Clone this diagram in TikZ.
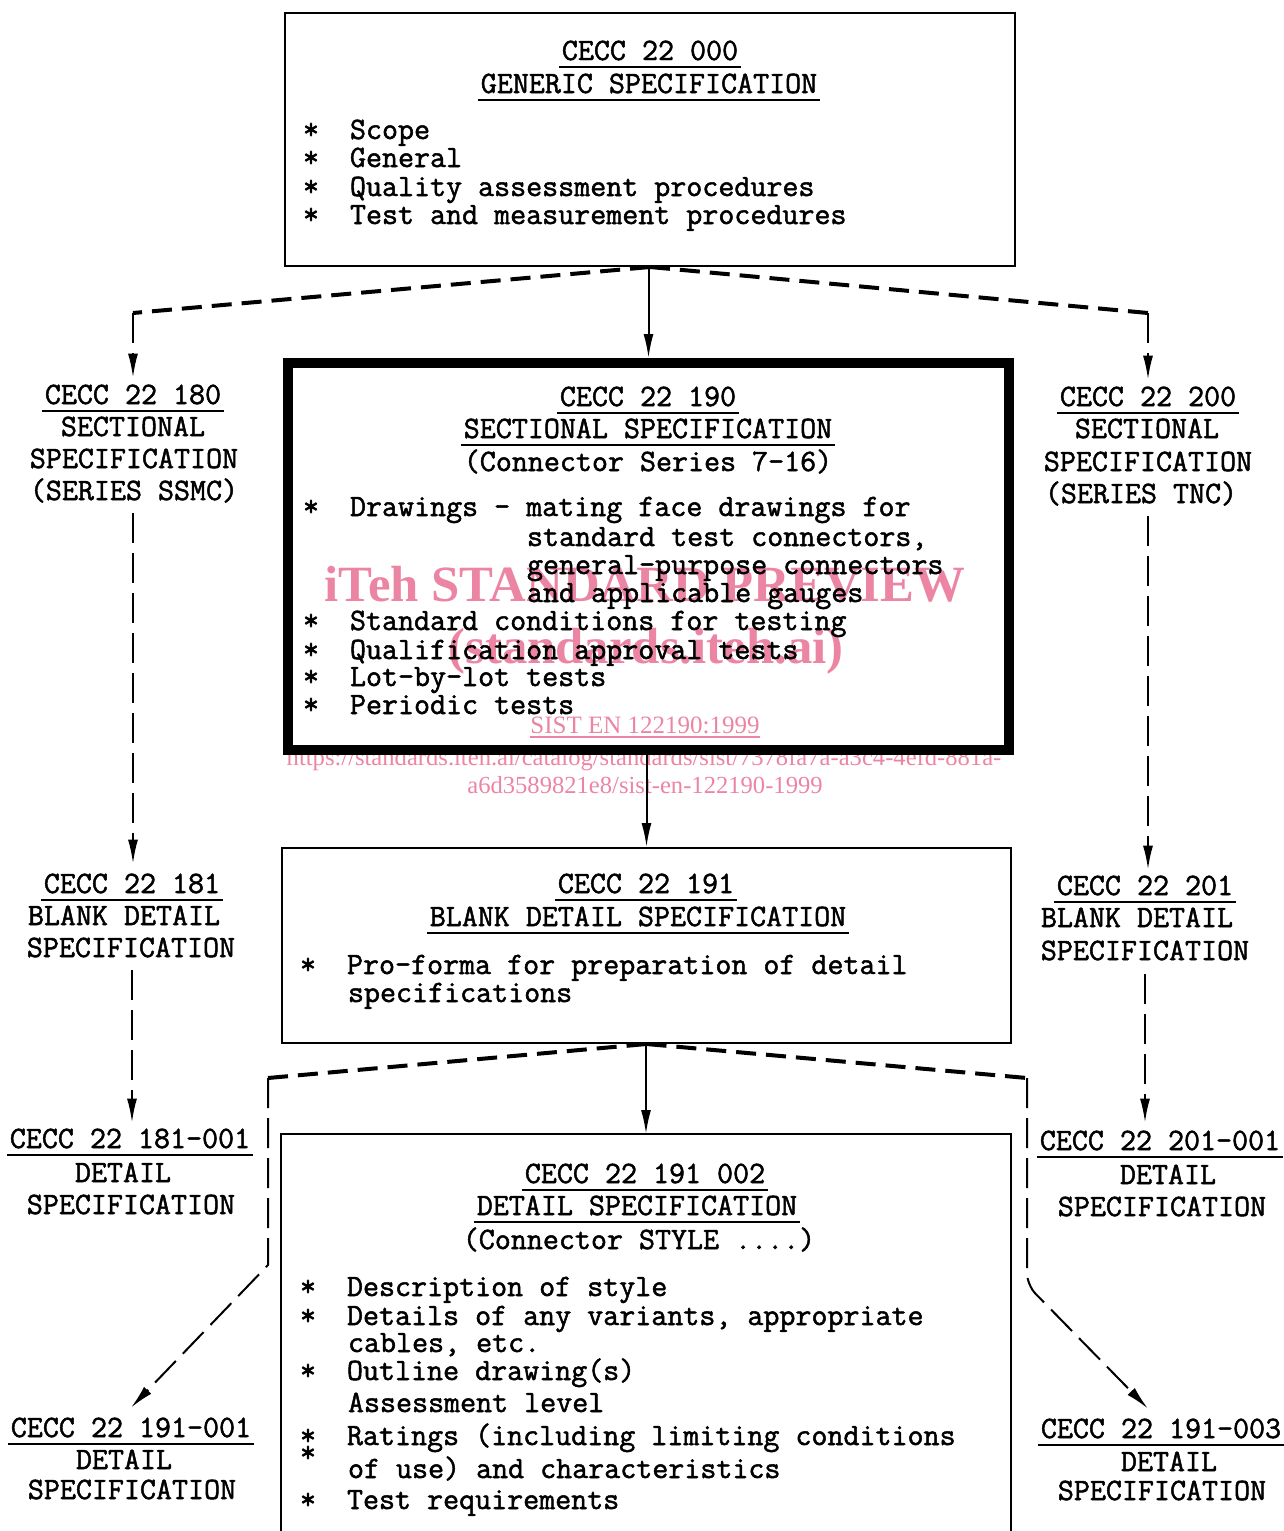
\documentclass[tikz,border=0pt]{standalone}
\usepackage{fontspec}
\newfontfamily\wmfont{Liberation Serif}
\newfontfamily\twfont{lmmono12-regular.otf}[FakeBold=1.6]
\usetikzlibrary{arrows.meta,fit,calc}
\definecolor{wm}{RGB}{236,133,163}
\newcommand\bul{\makebox[23.5pt][l]{*}}
\newcommand\ulof[1]{\draw[ulline] ($(#1.base west)+(-3,7)$) -- ($(#1.base east)+(3,7)$);}
\begin{document}
\begin{tikzpicture}[x=0.5pt,y=-0.5pt,
  tw/.style={font=\twfont\fontsize{15.55}{16}\selectfont, inner sep=0pt, outer sep=0pt},
  lw/.style={tw, anchor=base west},
  cw/.style={tw, anchor=base},
  boxline/.style={line width=1pt},
  ulline/.style={line width=1pt},
  arr/.style={line width=1pt, -{Latex[length=12pt,width=5pt]}},
  hd/.style={line width=2pt, dash pattern=on 10pt off 5pt},
  td/.style={line width=1pt, dash pattern=on 15pt off 5pt},
  wmk/.style={text=wm, inner sep=0pt, outer sep=0pt, anchor=base},
]
\useasboundingbox (0,0) rectangle (1284,1531);

% watermark
\node[wmk, font=\wmfont\fontsize{25.4}{26}\selectfont\bfseries] (w1) at (645,601) {iTeh STANDARD PREVIEW};
\node[wmk, font=\wmfont\fontsize{25.4}{26}\selectfont\bfseries] (w2) at (646,663) {(standards.iteh.ai)};
\node[wmk, font=\wmfont\fontsize{12.5}{13}\selectfont] (w3) at (645,733) {SIST EN 122190:1999};
\draw[wm, line width=0.6pt] ($(w3.base west)+(0,4)$) -- ($(w3.base east)+(0,4)$);
\node[wmk, font=\wmfont\fontsize{12.3}{13}\selectfont] (w4) at (644,765) {https://standards.iteh.ai/catalog/standards/sist/7378fa7a-a3c4-4efd-881a-};
\node[wmk, font=\wmfont\fontsize{12.3}{13}\selectfont] (w5) at (645,793) {a6d3589821e8/sist-en-122190-1999};

% boxes
\node[fit={(285,13) (1015,266)}, draw, boxline, inner sep=0pt] (G) {};
\node[fit={(288,363) (1009,750)}, draw, line width=5pt, inner sep=0pt] (S) {};
\node[fit={(282,848) (1011,1043)}, draw, boxline, inner sep=0pt] (B) {};
\node[fit={(282,1135) (1010,1531)}, inner sep=0pt, outer sep=0.5pt] (D) {};
\draw[boxline] (D.south west) -- (D.north west) -- (D.north east) -- (D.south east);

% generic
\node[cw] (g1) at (650,60) {CECC 22 000}; \ulof{g1}
\node[cw] (g2) at (649,93) {GENERIC SPECIFICATION}; \ulof{g2}
\node[lw] (g3) at (303,139) {\bul Scope};
\node[lw] (g4) at (303,167) {\bul General};
\node[lw] (g5) at (303,196) {\bul Quality assessment procedures};
\node[lw] (g6) at (303,224) {\bul Test and measurement procedures};

% sectional 190
\node[cw] (s1) at (648,406) {CECC 22 190}; \ulof{s1}
\node[cw] (s2) at (648,438) {SECTIONAL SPECIFICATION}; \ulof{s2}
\node[cw] (s3) at (648,471) {(Connector Series 7-16)};
\node[lw] (s4) at (303,516) {\bul Drawings - mating face drawings for};
\node[lw] (s5) at (527,546) {standard test connectors,};
\node[lw] (s6) at (527,574) {general-purpose connectors};
\node[lw] (s7) at (527,602) {and applicable gauges};
\node[lw] (s8) at (303,630) {\bul Standard conditions for testing};
\node[lw] (s9) at (303,659) {\bul Qualification approval tests};
\node[lw] (s10) at (303,686) {\bul Lot-by-lot tests};
\node[lw] (s11) at (303,714) {\bul Periodic tests};

% blank detail 191
\node[cw] (b1) at (646,893) {CECC 22 191}; \ulof{b1}
\node[cw] (b2) at (638,926) {BLANK DETAIL SPECIFICATION}; \ulof{b2}
\node[lw] (b3) at (300,974) {\bul Pro-forma for preparation of detail};
\node[lw] (b4) at (348,1002) {specifications};

% detail 191 002
\node[cw] (d1) at (645,1183) {CECC 22 191 002}; \ulof{d1}
\node[cw] (d2) at (637,1215) {DETAIL SPECIFICATION}; \ulof{d2}
\node[cw] (d3) at (639,1249) {(Connector STYLE ....)};
\node[lw] (d4) at (300,1296) {\bul Description of style};
\node[lw] (d5) at (300,1325) {\bul Details of any variants, appropriate};
\node[lw] (d6) at (348,1352) {cables, etc.};
\node[lw] (d7) at (300,1380) {\bul Outline drawing(s)};
\node[lw] (d8) at (348,1412) {Assessment level};
\node[lw] (d9) at (300,1445) {\bul Ratings (including limiting conditions};
\node[lw] (d10) at (300,1462) {*};
\node[lw] (d11) at (348,1478) {of use) and characteristics};
\node[lw] (d12) at (300,1509) {\bul Test requirements};

% left column
\node[cw] (la1) at (133,404) {CECC 22 180}; \ulof{la1}
\node[cw] (la2) at (133,436) {SECTIONAL};
\node[cw] (la3) at (134,468) {SPECIFICATION};
\node[cw] (la4) at (134,500) {(SERIES SSMC)};
\node[cw] (lb1) at (132,893) {CECC 22 181}; \ulof{lb1}
\node[cw] (lb2) at (124,925) {BLANK DETAIL};
\node[cw] (lb3) at (131,957) {SPECIFICATION};
\node[cw] (lc1) at (130,1148) {CECC 22 181-001}; \ulof{lc1}
\node[cw] (lc2) at (123,1182) {DETAIL};
\node[cw] (lc3) at (131,1214) {SPECIFICATION};
\node[cw] (ld1) at (131,1437) {CECC 22 191-001}; \ulof{ld1}
\node[cw] (ld2) at (124,1469) {DETAIL};
\node[cw] (ld3) at (132,1499) {SPECIFICATION};

% right column
\node[cw] (ra1) at (1148,406) {CECC 22 200}; \ulof{ra1}
\node[cw] (ra2) at (1147,438) {SECTIONAL};
\node[cw] (ra3) at (1148,471) {SPECIFICATION};
\node[cw] (ra4) at (1141,503) {(SERIES TNC)};
\node[cw] (rb1) at (1145,895) {CECC 22 201}; \ulof{rb1}
\node[cw] (rb2) at (1137,927) {BLANK DETAIL};
\node[cw] (rb3) at (1145,960) {SPECIFICATION};
\node[cw] (rc1) at (1160,1150) {CECC 22 201-001}; \ulof{rc1}
\node[cw] (rc2) at (1168,1184) {DETAIL};
\node[cw] (rc3) at (1162,1216) {SPECIFICATION};
\node[cw] (rd1) at (1161,1438) {CECC 22 191-003}; \ulof{rd1}
\node[cw] (rd2) at (1169,1471) {DETAIL};
\node[cw] (rd3) at (1162,1500) {SPECIFICATION};

% connectors
\coordinate (c1l) at (133,313);
\coordinate (c1r) at (1148,313);
\draw[hd] (G.south) -- (c1l);
\draw[hd] (G.south) -- (c1r);
\draw[arr] (G.south -| S.north) -- (S.north);
\draw[td,arr] (c1l) -- ($(la1.north)+(0,-7)$);
\draw[td,arr] (c1r) -- ($(ra1.north)+(0,-7)$);
\draw[td,arr] ($(la4.south -| la1.north)+(0,10)$) -- ($(lb1.north -| la1.north)+(0,-10)$);
\draw[td,arr] ($(lb3.south -| lb1.north)+(0,13)$) -- ($(lc1.north -| lb1.north)+(0,-6)$);
\draw[td,arr] ($(ra4.south -| ra1.north)+(0,10)$) -- ($(rb1.north -| ra1.north)+(0,-6)$);
\draw[td,arr] ($(rb3.south -| rb1.north)+(0,14)$) -- ($(rc1.north -| rb1.north)+(0,-8)$);

\draw[arr] (S.south -| B.north) -- (B.north);
\coordinate (c3l) at (268,1078);
\coordinate (c3r) at (1027,1078);
\coordinate (k3l) at (268,1265);
\coordinate (k3r) at (1027,1285);
\draw[hd] (B.south) -- (c3l);
\draw[hd] (B.south) -- (c3r);
\draw[arr] (B.south -| D.north) -- (D.north);
\draw[td,arr] (c3l) -- (k3l) -- ($(ld1.north)+(0,-10)$);
\draw[td,arr,rounded corners=6pt] (c3r) -- (k3r) -- ($(rd1.north)+(-13,-10)$);
\end{tikzpicture}
\end{document}
